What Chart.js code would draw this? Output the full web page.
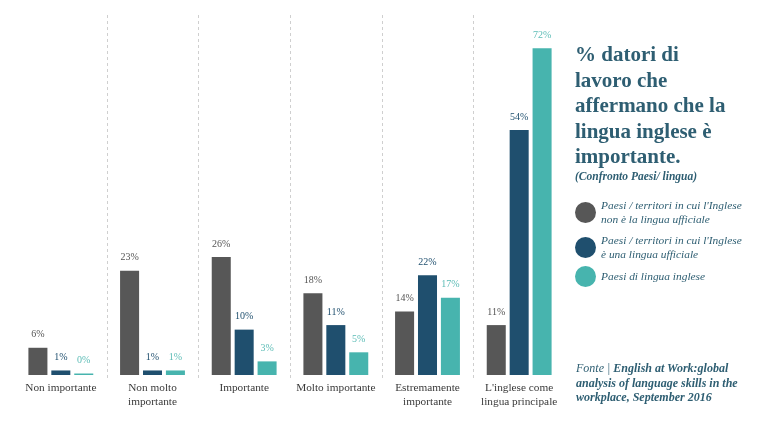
<!DOCTYPE html>
<html>
<head>
<meta charset="utf-8">
<script src="https://cdn.jsdelivr.net/npm/chart.js@4/dist/chart.umd.min.js"></script>
<style>
  html, body { margin: 0; padding: 0; background: #ffffff; }
  #wrap { position: relative; width: 768px; height: 432px; overflow: hidden; }
  #c { position: absolute; left: 0; top: 0; }
  .side { position: absolute; font-family: "Liberation Serif", "DejaVu Serif", serif; color: #2e5e72; }
  #title { left: 575px; top: 42px; width: 192px; font-size: 21px; font-weight: bold; line-height: 25.5px; white-space: nowrap; }
  #subtitle { left: 575px; top: 170px; font-size: 11.5px; font-weight: bold; font-style: italic; }
  .leg { position: absolute; left: 575px; font-family: "Liberation Serif", serif; font-style: italic; font-size: 11.4px; line-height: 13.5px; color: #2e5e72; }
  .leg .dot { position: absolute; left: 0; width: 21px; height: 21px; border-radius: 50%; }
  .leg .txt { position: absolute; left: 26px; white-space: nowrap; }
  #source { left: 576px; top: 361px; font-size: 12px; font-style: italic; line-height: 14.5px; white-space: nowrap; }
</style>
</head>
<body>
<div id="wrap">
  <canvas id="c" width="768" height="432"></canvas>
  <div id="title" class="side">% datori di<br>lavoro che<br>affermano che la<br>lingua inglese è<br>importante.</div>
  <div id="subtitle" class="side">(Confronto Paesi/ lingua)</div>
  <div id="legend"></div>
  <div id="source" class="side">Fonte | <b>English at Work:global</b><br><b>analysis of language skills in the</b><br><b>workplace, September 2016</b></div>
</div>
<script>
const categories = [["Non importante"], ["Non molto", "importante"], ["Importante"], ["Molto importante"], ["Estremamente", "importante"], ["L'inglese come", "lingua principale"]];
const seriesNames = [
  ["Paesi / territori in cui l'Inglese", "non è la lingua ufficiale"],
  ["Paesi / territori in cui l'Inglese", "è una lingua ufficiale"],
  ["Paesi di lingua inglese"]
];
const nonUfficiale = [6, 23, 26, 18, 14, 11];
const ufficiale = [1, 1, 10, 11, 22, 54];
const linguaInglese = [0, 1, 3, 5, 17, 72];
const colors = ["#575757", "#1f4f6e", "#47b4ae"];
const labelColors = ["#555555", "#1f4f6e", "#5cbcb6"];

// Legend (HTML)
const legendTops = [201, 236, 266];
const legendEl = document.getElementById('legend');
seriesNames.forEach((lines, i) => {
  const d = document.createElement('div');
  d.className = 'leg';
  d.style.top = legendTops[i] + 'px';
  const dot = document.createElement('div');
  dot.className = 'dot';
  dot.style.background = colors[i];
  dot.style.top = (lines.length === 2 ? 1 : 0) + 'px';
  const t = document.createElement('div');
  t.className = 'txt';
  t.style.top = (lines.length === 2 ? -2 : 4) + 'px';
  t.innerHTML = lines.join('<br>');
  d.appendChild(dot); d.appendChild(t);
  legendEl.appendChild(d);
});

const extras = {
  id: 'extras',
  beforeDatasetsDraw(chart) {
    const ctx = chart.ctx;
    const xs = chart.scales.x;
    ctx.save();
    ctx.strokeStyle = '#cfcfcf';
    ctx.lineWidth = 1;
    ctx.setLineDash([3, 3]);
    for (let i = 0; i < categories.length - 1; i++) {
      const x = Math.round((xs.getPixelForValue(i) + xs.getPixelForValue(i + 1)) / 2) + 0.5;
      ctx.beginPath();
      ctx.moveTo(x, 15);
      ctx.lineTo(x, 378);
      ctx.stroke();
    }
    ctx.restore();
  },
  afterDatasetsDraw(chart) {
    const ctx = chart.ctx;
    ctx.save();
    ctx.font = '10px "Liberation Serif", serif';
    ctx.textAlign = 'center';
    ctx.textBaseline = 'middle';
    chart.data.datasets.forEach((ds, di) => {
      const meta = chart.getDatasetMeta(di);
      ctx.fillStyle = labelColors[di];
      meta.data.forEach((el, i) => {
        ctx.fillText(ds.data[i] + '%', el.x, el.y - 13);
      });
    });
    ctx.restore();
  }
};

new Chart(document.getElementById('c'), {
  type: 'bar',
  data: {
    labels: categories,
    datasets: [
      { label: seriesNames[0].join(' '), data: nonUfficiale, backgroundColor: colors[0] },
      { label: seriesNames[1].join(' '), data: ufficiale, backgroundColor: colors[1] },
      { label: seriesNames[2].join(' '), data: linguaInglese, backgroundColor: colors[2], minBarLength: 1.5 }
    ]
  },
  options: {
    responsive: false,
    animation: false,
    devicePixelRatio: 1,
    layout: { padding: { left: 15, right: 203, top: 12, bottom: 0 } },
    datasets: { bar: { categoryPercentage: 0.75, barPercentage: 0.83 } },
    plugins: { legend: { display: false }, tooltip: { enabled: false }, title: { display: false } },
    scales: {
      x: {
        grid: { display: false, drawTicks: false },
        border: { display: false },
        ticks: {
          color: '#3a3a3a',
          font: { family: '"Liberation Serif", serif', size: 11.3, lineHeight: 1.25 },
          padding: 6,
          maxRotation: 0,
          autoSkip: false
        },
        afterFit(s) { s.height = 57; }
      },
      y: { display: false, min: 0, max: 80 }
    }
  },
  plugins: [extras]
});
</script>
</body>
</html>
